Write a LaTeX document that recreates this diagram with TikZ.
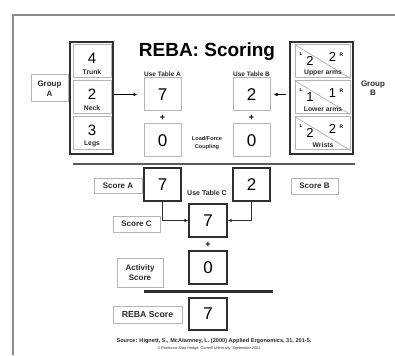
\documentclass[tikz,border=0pt]{standalone}
\usepackage{fontspec}
\setmainfont{Liberation Sans}
\usetikzlibrary{arrows.meta}
\definecolor{lightb}{HTML}{B4B4B4}
\definecolor{darkb}{HTML}{303030}
\definecolor{txt}{HTML}{2A2A2A}
\definecolor{framec}{HTML}{8A8A8A}
\tikzset{
  lbox/.style={draw=lightb, line width=1pt, fill=white, inner sep=0pt, text=txt, align=center},
  dbox/.style={draw=darkb, line width=1.1pt, fill=white, inner sep=0pt, text=black},
  colbox/.style={draw=darkb, line width=1.3pt, inner sep=0pt},
  digit/.style={font=\fontsize{17}{17}\selectfont, text=black},
  celldigit/.style={font=\fontsize{15}{15}\selectfont, text=black, inner sep=0pt},
  bdigit/.style={font=\fontsize{13}{13}\selectfont, text=black, inner sep=0pt},
  tiny/.style={font=\fontsize{6.8}{7}\selectfont\bfseries, text=txt, inner sep=0pt, align=center},
  small/.style={font=\fontsize{6.5}{7}\selectfont\bfseries, text=txt, inner sep=0pt, align=center},
  lbl/.style={font=\fontsize{8}{9.5}\selectfont\bfseries, text=txt},
  plus/.style={font=\fontsize{9}{9}\selectfont\bfseries, text=black, inner sep=0pt},
  arr/.style={-{Latex[length=4pt,width=3.5pt]}, line width=0.9pt, draw=black},
  conn/.style={-{Latex[length=4pt,width=3.5pt]}, line width=0.9pt, draw=darkb},
}
\begin{document}
\begin{tikzpicture}[x=1pt,y=-1pt]
\useasboundingbox (0,0) rectangle (395,355);
% frame
\coordinate (fTL) at (13,15);
\coordinate (fTR) at (395,15);
\coordinate (fBL) at (13,355);
\draw[framec, line width=1.5pt] (fBL) -- (fTL) -- (fTR);
% title
\node[font=\fontsize{19}{19}\selectfont\bfseries, text=black] (title) at (207,52) {REBA: Scoring};
% group A
\node[lbox, minimum width=37pt, minimum height=27pt, lbl] (grpA) at (49.5,88.5) {Group\\A};
\node[colbox, minimum width=43pt, minimum height=112pt] (colA) at (91.5,98) {};
\foreach \n/\yc/\d/\t in {trunk/61.5/4/Trunk, neck/97.5/2/Neck, legs/133.5/3/Legs}{
  \node[lbox, minimum width=38pt, minimum height=33pt] (\n) at (92,\yc) {};
  \node[celldigit] (\n d) at (92,\yc-3.5) {\d};
  \node[tiny] (\n t) at (92,\yc+10.5) {\t};
}
% Table A
\node[lbox, digit, minimum width=37pt, minimum height=33pt] (tA) at (162.5,94.5) {7};
\node[small, anchor=south] (useA) at (162.5,76.5) {Use Table A};
\node[plus] (pA) at (162.5,118) {+};
\node[lbox, digit, minimum width=37pt, minimum height=33pt] (lA) at (162.5,140.5) {0};
% Table B
\node[lbox, digit, minimum width=37pt, minimum height=33pt] (tB) at (251.5,94.5) {2};
\node[small, anchor=south] (useB) at (251.5,76.5) {Use Table B};
\node[plus] (pB) at (251.5,118) {+};
\node[lbox, digit, minimum width=37pt, minimum height=33pt] (lB) at (251.5,140.5) {0};
\node[font=\fontsize{5.6}{7.5}\selectfont\bfseries, text=txt, align=center, inner sep=0pt] (load) at (207,143) {Load/Force\\Coupling};
% group B
\node[colbox, minimum width=63pt, minimum height=112pt] (colB) at (321.5,98) {};
\foreach \n/\yt/\a/\b/\t in {ua/45/2/2/Upper arms, la/81/1/1/Lower arms, wr/117/2/2/Wrists}{
  \node[lbox, minimum width=55pt, minimum height=33pt] (\n) at (322.5,\yt+16.5) {};
  \draw[lightb, line width=0.8pt] (\n.north west) -- (\n.south east);
  \node[font=\fontsize{4.5}{5}\selectfont\bfseries, inner sep=0pt] (\n L) at (301,\yt+9) {L};
  \node[bdigit] (\n a) at (310,\yt+16) {\a};
  \node[bdigit] (\n b) at (332.5,\yt+12) {\b};
  \node[font=\fontsize{5}{5}\selectfont\bfseries, inner sep=0pt] (\n R) at (341.5,\yt+9.5) {R};
  \node[tiny] (\n t) at (323,\yt+28) {\t};
}
\node[lbl, align=center] (grpB) at (373,88) {Group\\B};
% arrows
\draw[arr, shorten >=6pt] (colA.east |- tA.center) -- (tA.west);
\draw[arr, shorten >=3pt, shorten <=3pt] (colB.west |- tB.center) -- (tB.east);
% separator 1
\coordinate (s1a) at (73,164);
\coordinate (s1b) at (355,164);
\draw[darkb!80, line width=1.6pt] (s1a) -- (s1b);
% Scores
\node[lbox, lbl, minimum width=48pt, minimum height=15pt] (scA) at (118,185.5) {Score A};
\node[dbox, digit, minimum width=37pt, minimum height=33pt] (sA) at (162.5,184.5) {7};
\node[dbox, digit, minimum width=37pt, minimum height=33pt] (sB) at (251.5,184.5) {2};
\node[lbox, lbl, minimum width=47pt, minimum height=16pt] (scB) at (314.5,186) {Score B};
\node[font=\fontsize{7}{7}\selectfont\bfseries, text=txt, inner sep=0pt] (useC) at (207,193) {Use Table C};
\node[dbox, digit, minimum width=38pt, minimum height=33pt] (sC) at (208,220.5) {7};
\node[lbox, lbl, minimum width=47pt, minimum height=16pt] (scC) at (136.5,224) {Score C};
\draw[conn] (sA.south) |- (sC.west);
\draw[conn] (sB.south) |- (sC.east);
\node[plus] (pC) at (208,245) {+};
\node[dbox, digit, minimum width=38pt, minimum height=33pt] (act) at (208,267.5) {0};
\node[lbox, lbl, minimum width=46pt, minimum height=29pt] (actl) at (140,272.5) {Activity\\Score};
% separator 2
\coordinate (s2a) at (144,291);
\coordinate (s2b) at (273,291);
\draw[darkb, line width=3pt] (s2a) -- (s2b);
\node[lbox, minimum width=69pt, minimum height=17pt, font=\fontsize{8.7}{9}\selectfont\bfseries] (rebal) at (147.5,314.5) {REBA Score};
\node[dbox, digit, minimum width=38pt, minimum height=32pt] (reba) at (208,314) {7};
% source
\node[font=\fontsize{5.6}{6}\selectfont\bfseries, text=txt, inner sep=0pt] (src) at (214,341) {Source: Hignett, S., McAtamney, L. (2000) Applied Ergonomics, 31, 201-5.};
\node[font=\fontsize{3.8}{4}\selectfont\itshape, text=txt, inner sep=0pt] (copy) at (209.5,349) {\textcopyright\ Professor Alan Hedge, Cornell University, September 2001.};
\end{tikzpicture}
\end{document}
